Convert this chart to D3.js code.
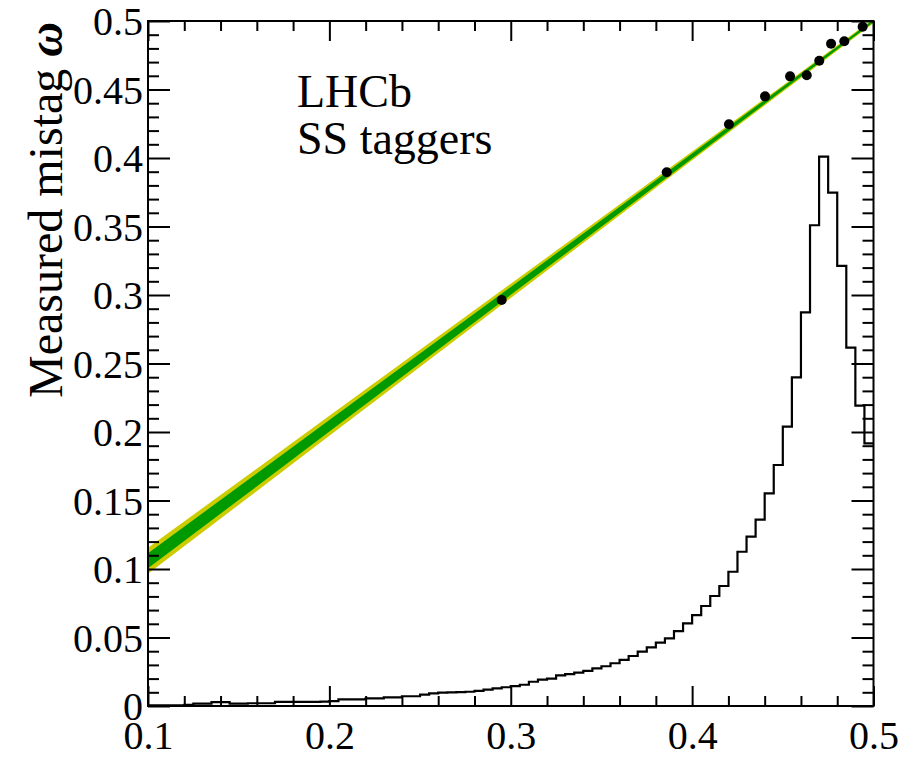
<!DOCTYPE html>
<html><head><meta charset="utf-8">
<script src="https://cdn.jsdelivr.net/npm/d3@7"></script>
<style>
html,body{margin:0;padding:0;background:#fff;}
svg{display:block;}
text{font-family:"Liberation Serif","Times New Roman",serif;fill:#000;}
</style></head>
<body>
<svg id="chart" width="903" height="759"></svg>
<script>
// ---- data ----
const histLow = 0.1, histBinWidth = 0.005;
const histValues = [
  0.0005,0.0005,0.0005,0.0005,0.0008,0.0017,0.0017,0.0029,0.0029,0.0017,
  0.0017,0.0020,0.0020,0.0020,0.0030,0.0030,0.0030,0.0030,0.0030,0.0032,
  0.0035,0.0049,0.0049,0.0049,0.0056,0.0056,0.0063,0.0063,0.0071,0.0071,
  0.0083,0.0092,0.0098,0.0100,0.0102,0.0104,0.0110,0.0119,0.0128,0.0137,
  0.0145,0.0155,0.0177,0.0192,0.0200,0.0224,0.0233,0.0243,0.0256,0.0275,
  0.0290,0.0312,0.0336,0.0365,0.0397,0.0428,0.0462,0.0494,0.0547,0.0603,
  0.0664,0.0730,0.0803,0.0876,0.0980,0.1126,0.1236,0.1360,0.1552,0.1759,
  0.2039,0.2399,0.2873,0.3509,0.4010,0.3747,0.3212,0.2616,0.2192,0.1917
];
const pointEta   = [0.295, 0.386, 0.4203, 0.4402, 0.454, 0.4632, 0.4701, 0.4766, 0.4839, 0.494];
const pointOmega = [0.2964, 0.3896, 0.4246, 0.445, 0.4596, 0.4604, 0.471, 0.4834, 0.4852, 0.4958];
const pointErr   = [0.0015, 0.0012, 0.0010, 0.0010, 0.0010, 0.0010, 0.0010, 0.0010, 0.0010, 0.0010];
const bandEta    = [0.1, 0.2, 0.3, 0.4, 0.45, 0.5];
const fitOmega   = [0.1060, 0.2045, 0.3030, 0.4015, 0.4507, 0.5];
const band1Half  = [0.0055, 0.0042, 0.0029, 0.0018, 0.0013, 0.0009];
const band2Half  = [0.0095, 0.0073, 0.0052, 0.0032, 0.0023, 0.0017];
const xMajor = [0.1, 0.2, 0.3, 0.4, 0.5];
const xMinor = [0.12,0.14,0.16,0.18,0.22,0.24,0.26,0.28,0.32,0.34,0.36,0.38,0.42,0.44,0.46,0.48];
const yMajor = [0, 0.05, 0.1, 0.15, 0.2, 0.25, 0.3, 0.35, 0.4, 0.45, 0.5];
const yMinor = d3.range(0, 51).map(i => i / 100).filter(v => Math.round(v * 100) % 5 !== 0);
const yTitle = "Measured mistag ";
const yTitleSymbol = "\u03C9";
const labelLines = ["LHCb", "SS taggers"];

// ---- chart ----
const svg = d3.select("#chart");
const L = 148, R = 873.5, T = 21, B = 706;
const x = d3.scaleLinear().domain([0.1, 0.5]).range([L, R]);
const y = d3.scaleLinear().domain([0, 0.5]).range([B, T]);

svg.append("defs").append("clipPath").attr("id", "clip")
  .append("rect").attr("x", L).attr("y", T).attr("width", R - L).attr("height", B - T);

const plot = svg.append("g").attr("clip-path", "url(#clip)");

const bandIdx = d3.range(bandEta.length);
const area = (half) => d3.area()
  .x(i => x(bandEta[i]))
  .y0(i => y(fitOmega[i] - half[i]))
  .y1(i => y(fitOmega[i] + half[i]));
plot.append("path").datum(bandIdx).attr("d", area(band2Half)).attr("fill", "#cccc00");
plot.append("path").datum(bandIdx).attr("d", area(band1Half)).attr("fill", "#009900");

// histogram
const histPts = histValues.map((v, i) => [histLow + i * histBinWidth, v]);
histPts.push([histLow + histValues.length * histBinWidth, histValues[histValues.length - 1]]);
plot.append("path").datum(histPts)
  .attr("d", d3.line().x(d => x(d[0])).y(d => y(d[1])).curve(d3.curveStepAfter))
  .attr("fill", "none").attr("stroke", "#000").attr("stroke-width", 2.2);

// points
const pts = svg.append("g");
pointEta.forEach((e, i) => {
  pts.append("line").attr("x1", x(e)).attr("x2", x(e))
    .attr("y1", y(pointOmega[i] - pointErr[i])).attr("y2", y(pointOmega[i] + pointErr[i]))
    .attr("stroke", "#000").attr("stroke-width", 2);
  pts.append("circle").attr("cx", x(e)).attr("cy", y(pointOmega[i])).attr("r", 5).attr("fill", "#000");
});

// axes
function style(g) { g.select(".domain").remove(); g.selectAll("line").attr("stroke", "#000").attr("stroke-width", 2); }
const fmtY = v => v === 0 ? "0" : String(+v.toFixed(2));
const fmtX = v => String(+v.toFixed(1));

svg.append("g").attr("transform", `translate(0,${B})`)
  .call(d3.axisBottom(x).tickValues(xMajor).tickSize(-20).tickFormat(fmtX))
  .call(style)
  .call(g => g.selectAll("text").attr("y", 43).attr("dy", null).attr("font-size", 40).attr("font-family", "Liberation Serif"));
svg.append("g").attr("transform", `translate(0,${B})`)
  .call(d3.axisBottom(x).tickValues(xMinor).tickSize(-10).tickFormat(""))
  .call(style);
svg.append("g").attr("transform", `translate(0,${T})`)
  .call(d3.axisTop(x).tickValues(xMajor).tickSize(-20).tickFormat(""))
  .call(style);
svg.append("g").attr("transform", `translate(0,${T})`)
  .call(d3.axisTop(x).tickValues(xMinor).tickSize(-10).tickFormat(""))
  .call(style);

svg.append("g").attr("transform", `translate(${L},0)`)
  .call(d3.axisLeft(y).tickValues(yMajor).tickSize(-22).tickPadding(5).tickFormat(fmtY))
  .call(style)
  .call(g => g.selectAll("text").attr("dy", "13.5px").attr("font-size", 40).attr("font-family", "Liberation Serif"));
svg.append("g").attr("transform", `translate(${L},0)`)
  .call(d3.axisLeft(y).tickValues(yMinor).tickSize(-11).tickFormat(""))
  .call(style);
svg.append("g").attr("transform", `translate(${R},0)`)
  .call(d3.axisRight(y).tickValues(yMajor).tickSize(-22).tickFormat(""))
  .call(style);
svg.append("g").attr("transform", `translate(${R},0)`)
  .call(d3.axisRight(y).tickValues(yMinor).tickSize(-11).tickFormat(""))
  .call(style);

// frame
svg.append("rect").attr("x", L).attr("y", T).attr("width", R - L).attr("height", B - T)
  .attr("fill", "none").attr("stroke", "#000").attr("stroke-width", 2);

// y title
const yt = svg.append("text").attr("transform", `translate(62,22) rotate(-90)`)
  .attr("text-anchor", "end").attr("font-size", 48);
yt.append("tspan").text(yTitle);
yt.append("tspan").attr("font-style", "italic").attr("font-weight", "bold").text(yTitleSymbol);

// label
labelLines.forEach((t, i) => {
  svg.append("text").attr("x", 297).attr("y", 107 + i * 47).attr("font-size", 46).text(t);
});
</script>
</body></html>
